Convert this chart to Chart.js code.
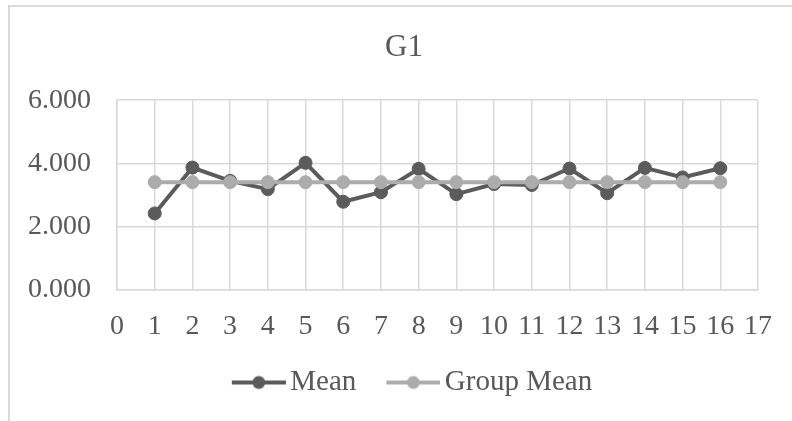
<!DOCTYPE html>
<html>
<head>
<meta charset="utf-8">
<script src="https://cdn.jsdelivr.net/npm/chart.js@4.4.0/dist/chart.umd.min.js"></script>
<style>
  html, body { margin: 0; padding: 0; background: #fff; }
  #wrap { position: relative; width: 792px; height: 421px; }
  #frame {
    position: absolute; left: 8px; top: 5px; right: 0; bottom: 0;
    border-top: 2px solid #d9d9d9; border-left: 2px solid #d9d9d9;
    pointer-events: none;
  }
  #chart { position: absolute; left: 0; top: 0; }
</style>
</head>
<body>
<div id="wrap">
  <canvas id="chart" width="792" height="421"></canvas>
  <div id="frame"></div>
</div>
<script>
// chart data
const xValues = [1, 2, 3, 4, 5, 6, 7, 8, 9, 10, 11, 12, 13, 14, 15, 16];
const meanValues = [2.42, 3.87, 3.45, 3.19, 4.02, 2.79, 3.09, 3.83, 3.03, 3.35, 3.32, 3.84, 3.06, 3.86, 3.56, 3.85];
const groupMeanValues = [3.41, 3.41, 3.41, 3.41, 3.41, 3.41, 3.41, 3.41, 3.41, 3.41, 3.41, 3.41, 3.41, 3.41, 3.41, 3.41];
const seriesNames = ['Mean', 'Group Mean'];
const chartTitle = 'G1';

const darkGray = '#5b5b5b';
const lightGray = '#acacac';
const textColor = '#595959';
const gridColor = '#d9d9d9';
const fontFamily = '"Liberation Serif", "Times New Roman", serif';

// line + dot marker for the legend, drawn in the right part of the image
// so it sits a bit to the right of the legend box centre
function legendMarker(color) {
    const c = document.createElement('canvas');
    c.width = 80;
    c.height = 16;
    const ctx = c.getContext('2d');
    ctx.strokeStyle = color;
    ctx.lineWidth = 4;
    ctx.beginPath();
    ctx.moveTo(26, 8);
    ctx.lineTo(80, 8);
    ctx.stroke();
    ctx.fillStyle = color;
    ctx.beginPath();
    ctx.arc(53, 8, 6.5, 0, Math.PI * 2);
    ctx.fill();
    return c;
}

function toPoints(values) {
    return values.map((v, i) => ({ x: xValues[i], y: v }));
}

const canvas = document.getElementById('chart');
const markers = [legendMarker(lightGray), legendMarker(darkGray)];

new Chart(canvas, {
    type: 'line',
    data: {
        datasets: [
            {
                // drawn on top, so it comes first
                label: seriesNames[1],
                data: toPoints(groupMeanValues),
                borderColor: lightGray,
                backgroundColor: lightGray,
                borderWidth: 4,
                pointRadius: 6.5,
                pointBorderWidth: 1,
                pointBackgroundColor: lightGray,
                pointBorderColor: lightGray,
                tension: 0
            },
            {
                label: seriesNames[0],
                data: toPoints(meanValues),
                borderColor: darkGray,
                backgroundColor: darkGray,
                borderWidth: 4,
                pointRadius: 6.5,
                pointBorderWidth: 1,
                pointBackgroundColor: darkGray,
                pointBorderColor: darkGray,
                tension: 0
            }
        ]
    },
    options: {
        responsive: false,
        animation: false,
        layout: {
            padding: { left: 16, right: 0, top: 0, bottom: 14 }
        },
        plugins: {
            tooltip: { enabled: false },
            title: {
                display: true,
                text: chartTitle,
                color: textColor,
                font: { family: fontFamily, size: 31, weight: 'normal' },
                padding: { top: 29, bottom: 34 }
            },
            legend: {
                position: 'bottom',
                reverse: true,
                labels: {
                    usePointStyle: true,
                    pointStyleWidth: 60,
                    padding: 14,
                    color: textColor,
                    font: { family: fontFamily, size: 29 },
                    generateLabels: function (chart) {
                        const items = Chart.defaults.plugins.legend.labels.generateLabels(chart);
                        items.forEach(item => { item.pointStyle = markers[item.datasetIndex]; });
                        return items;
                    }
                }
            }
        },
        scales: {
            x: {
                type: 'linear',
                min: 0,
                max: 17,
                afterFit: function (scale) { scale.height = 64; },
                ticks: {
                    stepSize: 1,
                    padding: 20,
                    maxRotation: 0,
                    autoSkip: false,
                    color: textColor,
                    font: { family: fontFamily, size: 28 }
                },
                grid: { color: gridColor, lineWidth: 1.5, drawTicks: false },
                border: { color: gridColor, width: 1.5 }
            },
            y: {
                min: 0,
                max: 6,
                afterFit: function (scale) { scale.width = 101; },
                ticks: {
                    stepSize: 2,
                    padding: 26,
                    color: textColor,
                    font: { family: fontFamily, size: 28 },
                    callback: function (value) { return value.toFixed(3); }
                },
                grid: { color: gridColor, lineWidth: 1.5, drawTicks: false },
                border: { color: gridColor, width: 1.5 }
            },
            // empty right-hand axis, only keeps the plot's right edge in place
            yRight: {
                position: 'right',
                min: 0,
                max: 1,
                afterFit: function (scale) { scale.width = 31; },
                ticks: { display: false },
                grid: { display: false },
                border: { display: false }
            }
        }
    }
});
</script>
</body>
</html>
